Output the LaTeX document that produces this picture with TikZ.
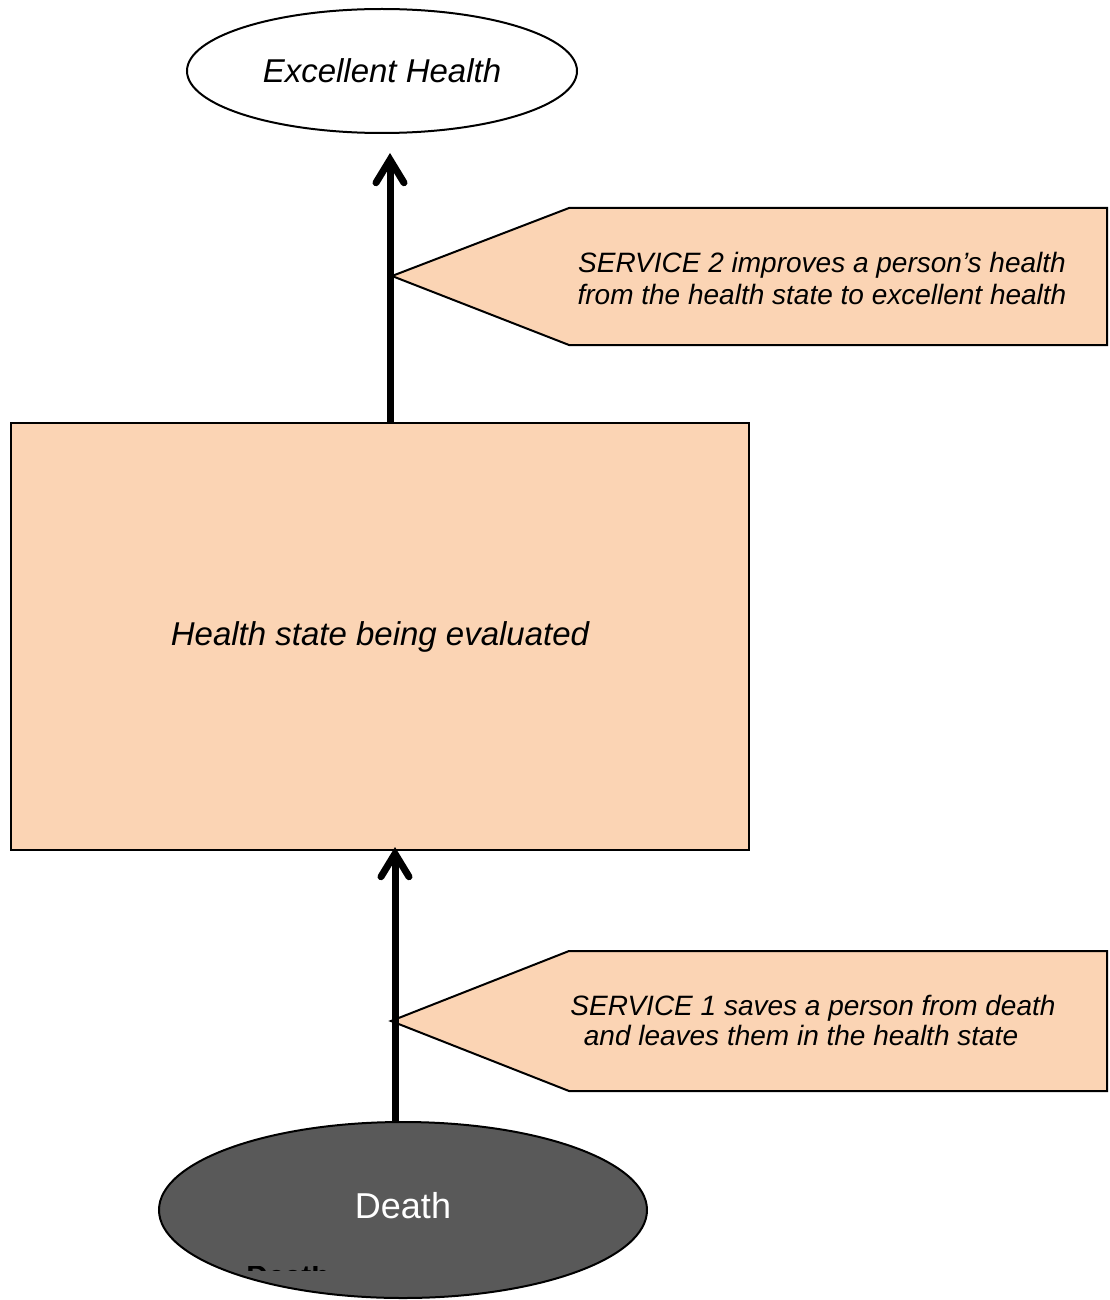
\documentclass[tikz,border=0pt]{standalone}
\usepackage{fontspec}
\setmainfont{Liberation Sans}
\usetikzlibrary{arrows.meta,shapes.geometric}
\definecolor{peach}{RGB}{251,212,180}
\definecolor{deathgrey}{RGB}{89,89,89}
\newcommand{\bigit}   {\fontsize{16.5}{19}\selectfont\itshape}
\newcommand{\noteit}  {\fontsize{14}{16}\selectfont\itshape}

\begin{document}
\begin{tikzpicture}[x=0.5pt,y=-0.5pt,
  state/.style={ellipse,draw=black,line width=1pt,inner sep=0pt},
  flow/.style={line width=3.5pt,-{Straight Barb[length=11.5pt,width=14pt,line cap=round]}},
  callout/.style={fill=peach,draw=black,line width=1pt}]
  \useasboundingbox (0,0) rectangle (1109,1300);
  \node[state,fill=white,minimum width=195pt,minimum height=62pt,font=\bigit] (excellent) at (382,71) {Excellent Health};
  \node[draw=black,fill=peach,line width=1pt,minimum width=369pt,minimum height=213.5pt,font=\bigit] (evaluated) at (380,636.5) {Health state being evaluated};
  \node[state,fill=deathgrey,minimum width=244pt,minimum height=88pt,text=white,font=\fontsize{18}{20}\selectfont] (death) at (403,1210) {\raisebox{5pt}{Death}};
  % half hidden label under the death oval
  \begin{scope}
   \clip (240,1266) rectangle (335,1270);
   \node[anchor=north west,inner sep=0pt,font=\fontsize{15}{17}\selectfont\bfseries] (deathlabel) at (246,1264) {Death};
  \end{scope}
  % callouts
  \filldraw[callout] (392,276) -- (569,208) -- (1107,208) -- (1107,345) -- (569,345) -- cycle;
  \node[align=center,font=\noteit] (service2) at (822,278) {SERVICE 2 improves a person’s health\\from the health state to excellent health};
  \filldraw[callout] (391,1021) -- (569,951) -- (1107,951) -- (1107,1091) -- (569,1091) -- cycle;
  \node[align=center,font=\noteit] (service1) at (813,1020) {SERVICE 1 saves a person from death\\[-1pt]\hspace*{-12pt}and leaves them in the health state};
  % arrows
  \draw[flow] ([xshift=5pt]evaluated.north) -- ([xshift=4pt,yshift=-9.5pt]excellent.south);
  \draw[flow] ([xshift=-4pt]death.north) -- ([xshift=7.5pt,yshift=2pt]evaluated.south);
 \end{tikzpicture}
\end{document}
